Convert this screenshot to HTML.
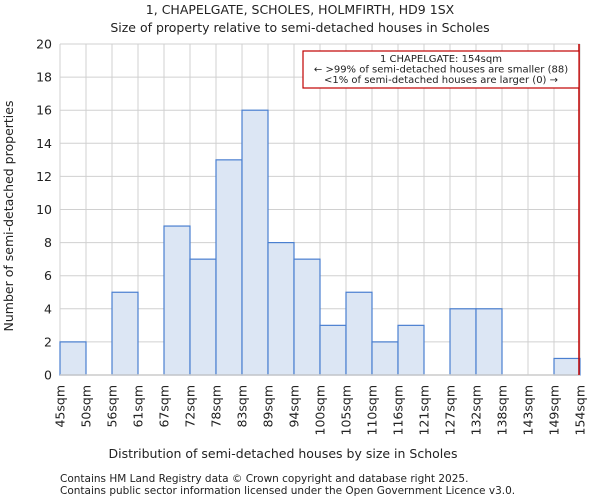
<!DOCTYPE html>
<html><head><meta charset="utf-8"><style>
body{margin:0;background:#fff;font-family:"DejaVu Sans","Liberation Sans",sans-serif;}
svg text{font-family:"DejaVu Sans","Liberation Sans",sans-serif;fill:#222;}
</style></head><body>
<svg id="chart" width="600" height="500" viewBox="0 0 600 500">
<text x="300" y="14" text-anchor="middle" font-size="12.5">1, CHAPELGATE, SCHOLES, HOLMFIRTH, HD9 1SX</text>
<text x="300" y="32" text-anchor="middle" font-size="12.5">Size of property relative to semi-detached houses in Scholes</text>
<g id="grid"></g>
<g id="bars"></g>
<g id="axes"></g>
<text x="283" y="458" text-anchor="middle" font-size="12.5">Distribution of semi-detached houses by size in Scholes</text>
<text transform="translate(13,216) rotate(-90)" text-anchor="middle" font-size="12.5">Number of semi-detached properties</text>
<text x="60" y="482" font-size="10.5" fill="#444">Contains HM Land Registry data © Crown copyright and database right 2025.</text>
<text x="60" y="494" font-size="10.5" fill="#444">Contains public sector information licensed under the Open Government Licence v3.0.</text>
</svg>
<script>
const edgeLabels=["45sqm","50sqm","56sqm","61sqm","67sqm","72sqm","78sqm","83sqm","89sqm","94sqm","100sqm","105sqm","110sqm","116sqm","121sqm","127sqm","132sqm","138sqm","143sqm","149sqm","154sqm"];
const counts=[2,0,5,0,9,7,13,16,8,7,3,5,2,3,0,4,4,0,0,1];
const yTicks=[0,2,4,6,8,10,12,14,16,18,20];
const markerIndex=20;
const NS="http://www.w3.org/2000/svg";
const X0=60,X1=580,Y0=375,Y1=44,YMAX=20;
const nb=counts.length;
const xs=i=>X0+(X1-X0)*i/nb;
const ys=v=>Y0-(Y0-Y1)*v/YMAX;
function mk(t,a,p){const e=document.createElementNS(NS,t);for(const k in a)e.setAttribute(k,a[k]);p.appendChild(e);return e;}
const grid=document.getElementById('grid'),bars=document.getElementById('bars'),axes=document.getElementById('axes');
yTicks.forEach(v=>{
 const l=mk('line',{x1:X0,x2:X1,y1:ys(v),y2:ys(v),stroke:'#d0d0d0','stroke-width':1},grid);
 
 
 const t=mk('text',{x:X0-8,y:ys(v)+4.5,'text-anchor':'end','font-size':12.5},axes);
 t.textContent=v;
 
 
});
edgeLabels.forEach((s,i)=>{
 const l=mk('line',{x1:xs(i),x2:xs(i),y1:Y1,y2:Y0,stroke:'#d0d0d0','stroke-width':1},grid);
 
 
 const t=mk('text',{transform:`translate(${xs(i)+4.5},${Y0+10}) rotate(-90)`,'text-anchor':'end','font-size':12.5},axes);
 t.textContent=s;
 
 
});
counts.forEach((c,i)=>{
 if(c<=0)return;
 const r=mk('rect',{x:xs(i),y:ys(c),width:xs(i+1)-xs(i),height:Y0-ys(c),fill:'#dce6f4',stroke:'#4a7fd0','stroke-width':1.2},bars);
 
 
});
const ax=mk('line',{x1:X0,x2:X1,y1:Y0,y2:Y0,stroke:'#ccc','stroke-width':1.5},axes);


const mx=xs(markerIndex)-1;
const ml=mk('line',{x1:mx,x2:mx,y1:Y1,y2:Y0,stroke:'#c00000','stroke-width':1.5},axes);


const box=mk('rect',{x:303,y:51,width:276,height:37,fill:'#fff',stroke:'#c00000','stroke-width':1.2},axes);


["1 CHAPELGATE: 154sqm","← >99% of semi-detached houses are smaller (88)","<1% of semi-detached houses are larger (0) →"].forEach((s,i)=>{
 const t=mk('text',{x:441,y:62+i*10.5,'text-anchor':'middle','font-size':10},axes);
 t.textContent=s;
 
 
});
</script>
</body></html>
